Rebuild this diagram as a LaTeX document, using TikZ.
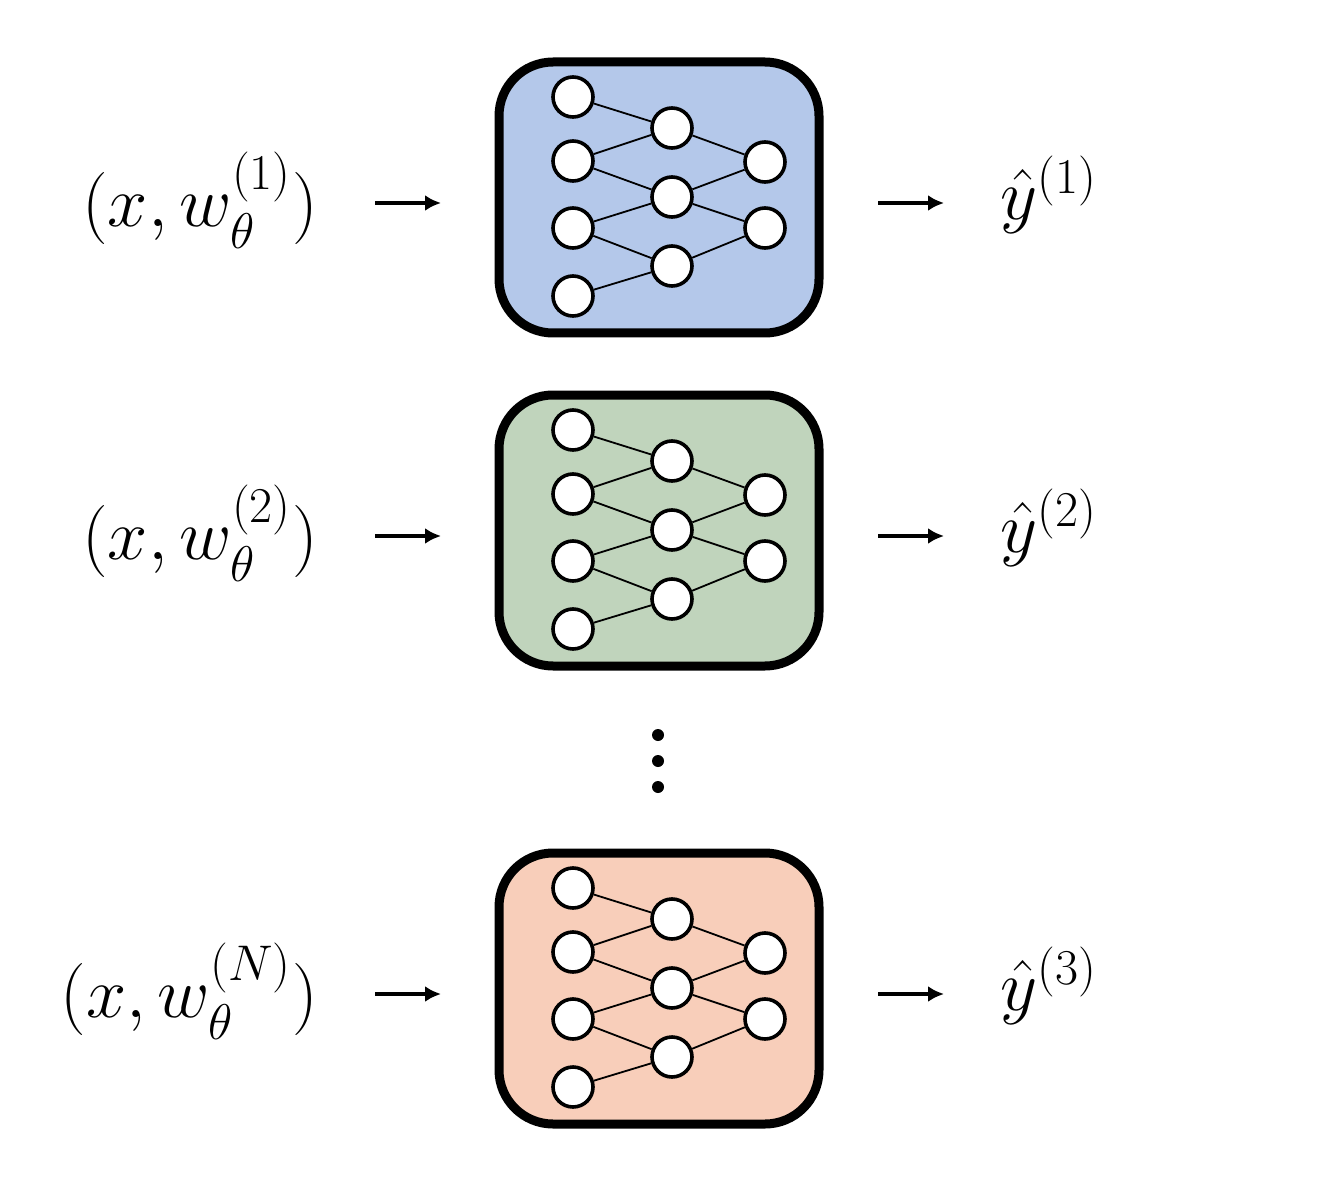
\documentclass[tikz,border=0pt]{standalone}
\usepackage{amsmath,graphicx}
\usetikzlibrary{arrows.meta}
\begin{document}
\begin{tikzpicture}[x=0.5pt,y=-0.5pt,
  boxst/.style={line width=4.5pt,rounded corners=27pt},
  neur/.style={circle,draw,line width=1.8pt,fill=white,minimum size=20pt,inner sep=0pt},
  conn/.style={line width=0.9pt},
  arr/.style={-{Latex[length=8pt,width=8pt]},line width=1.6pt},
  lbl/.style={font=\fontsize{24}{28}\selectfont}]
\useasboundingbox (0,0) rectangle (1328,1198);
\definecolor{cA}{RGB}{180,200,234}
\definecolor{cB}{RGB}{192,212,188}
\definecolor{cC}{RGB}{248,206,186}
\foreach \k/\dy/\col/\sup/\out in {1/0/cA/1/1, 2/333/cB/2/2, 3/791/cC/N/3}{
  \begin{scope}[yshift=-\dy*0.5pt]
  \draw[boxst,fill=\col] (499,62) rectangle (819,333);
  \foreach \i/\y in {1/97,2/161,3/228,4/296} \node[neur] (i\k\i) at (573,\y) {};
  \foreach \i/\y in {1/128,2/197,3/266} \node[neur] (h\k\i) at (672,\y) {};
  \foreach \i/\y in {1/162,2/228} \node[neur] (o\k\i) at (765,\y) {};
  \foreach \a/\b in {i\k1/h\k1,i\k2/h\k1,i\k2/h\k2,i\k3/h\k2,i\k3/h\k3,i\k4/h\k3,h\k1/o\k1,h\k2/o\k1,h\k2/o\k2,h\k3/o\k2}
    \draw[conn] (\a) -- (\b);
  \node[lbl,anchor=east,inner sep=0pt] (in\k) at (318,200) {\scalebox{1.45}{$(x,w_\theta^{(\sup)})$}};
  \coordinate (a\k) at (375,203); \coordinate (b\k) at (441,203);
  \draw[arr] (a\k) -- (b\k);
  \coordinate (c\k) at (878,203); \coordinate (d\k) at (944,203);
  \draw[arr] (c\k) -- (d\k);
  \node[lbl,anchor=west,inner sep=0pt] (y\k) at (1000,195) {\scalebox{1.45}{$\hat{y}^{(\out)}$}};
  \end{scope}}
\foreach \y in {735,761,787} \fill (658,\y) circle (3pt);
\end{tikzpicture}
\end{document}
